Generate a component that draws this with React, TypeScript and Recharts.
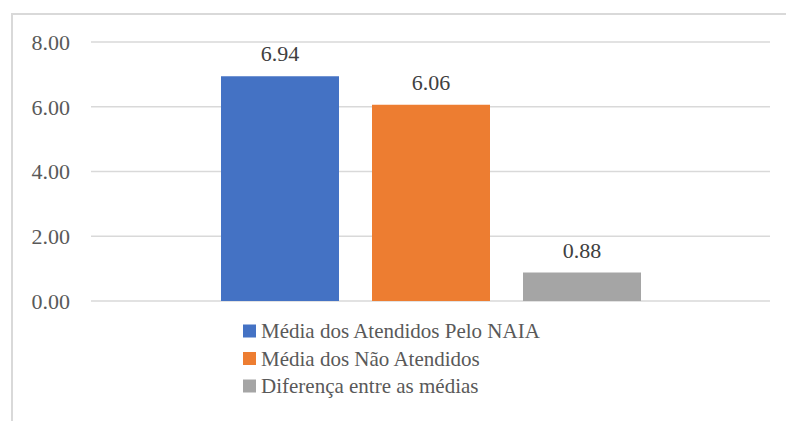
import { BarChart, Bar, XAxis, YAxis, CartesianGrid, LabelList } from "recharts"

const categories = [""]
const seriesNames = [
  "Média dos Atendidos Pelo NAIA",
  "Média dos Não Atendidos",
  "Diferença entre as médias",
]
const seriesValues = [[6.94], [6.06], [0.88]]
const seriesColors = ["#4472C4", "#ED7D31", "#A5A5A5"]
const yTicks = [0, 2, 4, 6, 8]

const font = "'Times New Roman', 'Liberation Serif', serif"
const textColor = "#595959"

const chartData = categories.map((name, i) => {
  const row: Record<string, string | number> = { name }
  seriesValues.forEach((vals, s) => {
    row[`s${s}`] = vals[i]
  })
  return row
})

export default function App() {
  return (
    <div
      style={{
        position: "absolute",
        left: 0,
        top: 0,
        width: 786,
        height: 421,
        overflow: "hidden",
        background: "#fff",
        fontFamily: font,
      }}
    >
      <div
        style={{
          position: "absolute",
          left: 11,
          top: 13,
          width: 786 - 11,
          height: 421 - 13,
          borderTop: "2px solid #d9d9d9",
          borderLeft: "2px solid #d9d9d9",
          boxSizing: "border-box",
        }}
      />
      <div style={{ position: "absolute", left: 0, top: 0 }}>
        <BarChart
          width={786}
          height={421}
          data={chartData}
          margin={{ top: 42, right: 16, bottom: 120, left: 0 }}
          barSize={118}
          barGap={33}
          style={{ fontFamily: font }}
        >
          <CartesianGrid vertical={false} stroke="#d9d9d9" strokeWidth={1.5} />
          <XAxis dataKey="name" hide />
          <YAxis
            width={91}
            domain={[0, 8]}
            ticks={yTicks}
            tickFormatter={(v: number) => v.toFixed(2)}
            axisLine={false}
            tickLine={false}
            tickMargin={15}
            tick={{ fill: textColor, fontSize: 22, fontFamily: font }}
          />
          {seriesNames.map((name, s) => (
            <Bar
              key={name}
              dataKey={`s${s}`}
              name={name}
              fill={seriesColors[s]}
              isAnimationActive={false}
            >
              <LabelList
                dataKey={`s${s}`}
                position="top"
                offset={15}
                formatter={(v: number) => v.toFixed(2)}
                fontFamily={font}
                fontSize={22}
                fill="#404040"
              />
            </Bar>
          ))}
        </BarChart>
      </div>
      <svg
        width={400}
        height={100}
        style={{ position: "absolute", left: 240, top: 314 }}
      >
        {seriesNames.map((name, s) => {
          const cy = 17 + s * 27.5
          return (
            <g key={name}>
              <rect x={3} y={cy - 6.5} width={13} height={13} fill={seriesColors[s]} />
              <text
                x={21}
                y={cy}
                dy="0.35em"
                fontFamily={font}
                fontSize={21}
                fill={textColor}
              >
                {name}
              </text>
            </g>
          )
        })}
      </svg>
    </div>
  )
}
